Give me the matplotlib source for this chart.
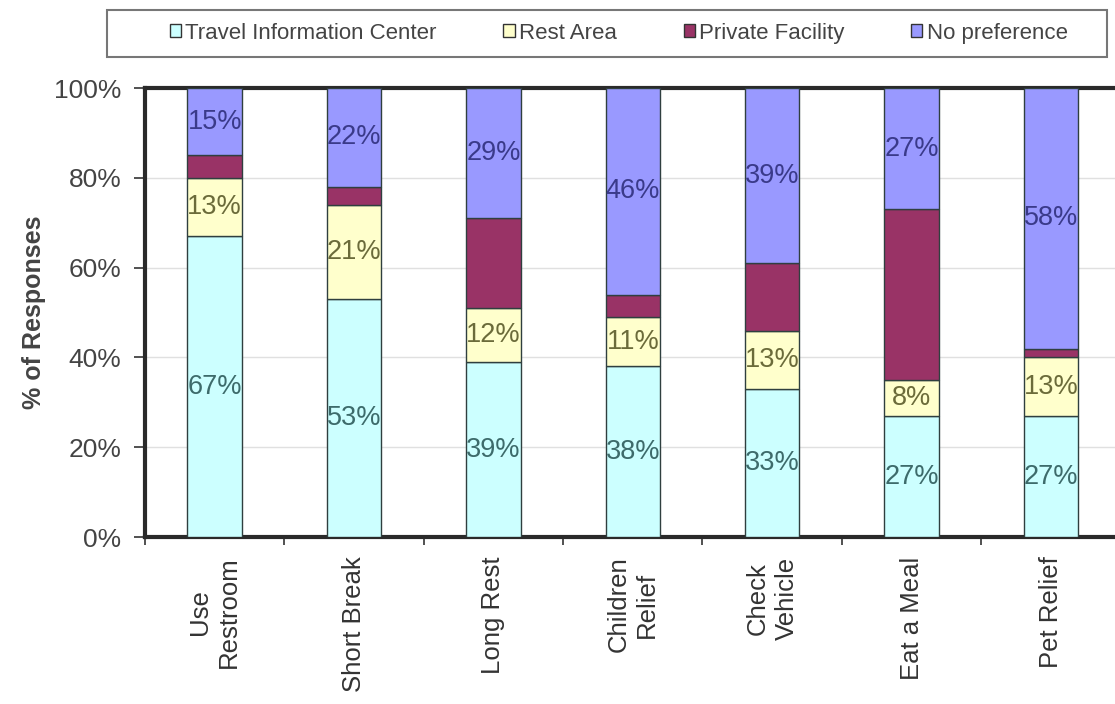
import matplotlib.pyplot as plt
import matplotlib.patches as mpatches
import numpy as np

plt.rcParams['font.family'] = ['Liberation Sans', 'DejaVu Sans']

categories = ['Use\nRestroom', 'Short Break', 'Long Rest', 'Children\nRelief',
              'Check\nVehicle', 'Eat a Meal', 'Pet Relief']
series = ['Travel Information Center', 'Rest Area', 'Private Facility', 'No preference']
travel_info = [67, 53, 39, 38, 33, 27, 27]
rest_area = [13, 21, 12, 11, 13, 8, 13]
private = [5, 4, 20, 5, 15, 38, 2]
no_pref = [15, 22, 29, 46, 39, 27, 58]

colors = ['#CCFFFF', '#FFFFCC', '#993366', '#9999FF']
text_colors = ['#3d6b6b', '#6b6b3a', None, '#3a3a8a']

fig = plt.figure(figsize=(11.15, 7.04), dpi=100)
ax = fig.add_axes([0.130, 0.237, 0.875, 0.638])

x = np.arange(len(categories))
bottom = np.zeros(len(categories))
for vals, col, tc, name in zip([travel_info, rest_area, private, no_pref], colors, text_colors, series):
    vals = np.array(vals, dtype=float)
    ax.bar(x, vals, 0.39, bottom=bottom, color=col, edgecolor='#2f3f3f',
           linewidth=1, label=name, zorder=3)
    if tc is not None:
        for xi, b, v in zip(x, bottom, vals):
            ax.text(xi, b + v / 2, f'{int(v)}%', ha='center', va='center',
                    fontsize=19.5, color=tc, zorder=4)
    bottom += vals

ax.set_xlim(-0.5, 6.5)
ax.set_ylim(0, 100)
ax.set_yticks(range(0, 101, 20))
ax.set_yticklabels([f'{v}%' for v in range(0, 101, 20)], fontsize=19, color='#444444')
ax.yaxis.grid(True, color='#e0e0e0', linewidth=1, zorder=0)
ax.set_xticks(x)
ax.set_xticklabels(categories, rotation=90, fontsize=18.5, color='#333333',
                   linespacing=1.25)
ax.tick_params(axis='x', length=0, pad=14)
ax.set_xticks(np.arange(-0.5, 6.6, 1), minor=True)
ax.tick_params(axis='x', which='minor', length=6, width=1.2, color='#333333')
ax.tick_params(axis='y', length=8, width=1.2, color='#333333', pad=9)
ax.set_ylabel('% of Responses', fontsize=18, fontweight='bold', color='#444444', labelpad=6)

for side in ['left', 'top', 'bottom']:
    ax.spines[side].set_linewidth(3)
    ax.spines[side].set_color('#2a2a2a')
ax.spines['right'].set_visible(False)

# legend frame drawn separately so it spans the width like the original
frame = mpatches.Rectangle((107 / 1115, 1 - 57 / 704), 1000 / 1115, 47 / 704,
                           transform=fig.transFigure, facecolor='white',
                           edgecolor='#777777', linewidth=1.5)
fig.add_artist(frame)
leg = fig.legend(loc='center', bbox_to_anchor=(0.555, 0.953), ncol=4, fontsize=16,
                 frameon=False, handlelength=0.5, handleheight=0.5,
                 handletextpad=0.2, columnspacing=3.0)
for t in leg.get_texts():
    t.set_color('#444444')
for h in leg.legend_handles:
    h.set_edgecolor('#333333')
    h.set_linewidth(1)

fig.savefig('out.png', dpi=100)
